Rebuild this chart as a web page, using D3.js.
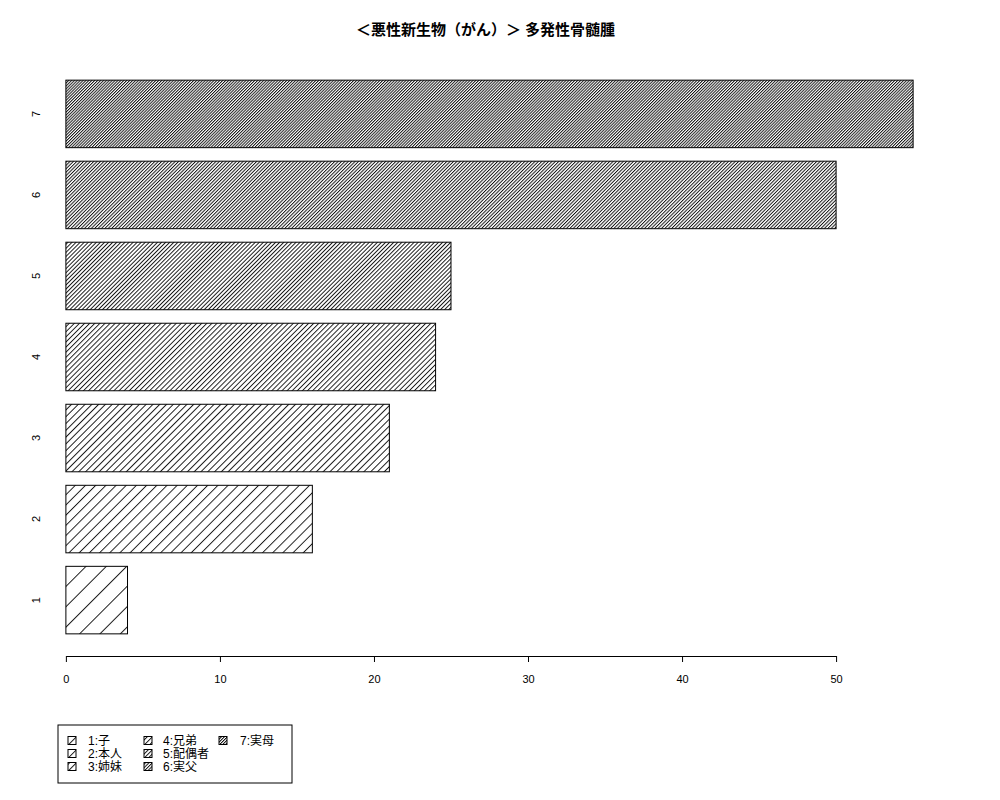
<!DOCTYPE html>
<html>
<head>
<meta charset="utf-8">
<script src="https://cdn.jsdelivr.net/npm/d3@7"></script>
<style>
  html, body { margin: 0; padding: 0; background: #fff; }
  svg { display: block; }
  text { font-family: "Liberation Sans", "Noto Sans CJK JP", sans-serif; }
</style>
</head>
<body>
<div id="chart"></div>
<script>
// ---- data ----
const title = "＜悪性新生物（がん）＞ 多発性骨髄腫";
const categories = ["1", "2", "3", "4", "5", "6", "7"];
const values = [4, 16, 21, 24, 25, 50, 55];
const densities = [5, 10, 15, 20, 25, 30, 35];   // hatch lines per inch
const legendLabels = ["1:子", "2:本人", "3:姉妹", "4:兄弟", "5:配偶者", "6:実父", "7:実母"];
const xTicks = [0, 10, 20, 30, 40, 50];

// ---- layout ----
const W = 1000, H = 800;
const plot = { left: 32, right: 947, top: 58, bottom: 656 };
const space = 0.2, barW = 1;
const n = categories.length;
const yMax = n * (barW + space);

const svg = d3.select("#chart").append("svg")
  .attr("width", W).attr("height", H);

const defs = svg.append("defs");
function makeHatch(id, d, ox, oy) {
  const s = 72 / d;
  const p = defs.append("pattern")
    .attr("id", id)
    .attr("patternUnits", "userSpaceOnUse")
    .attr("width", s).attr("height", 40)
    .attr("patternTransform", `translate(${ox},${oy}) rotate(45)`);
  p.append("line")
    .attr("x1", 0.5).attr("x2", 0.5)
    .attr("y1", 0).attr("y2", 40)
    .attr("stroke", "#000").attr("stroke-width", 0.9);
}
densities.forEach((d, i) => makeHatch("hatch" + i, d, 0, 0));

const xMaxData = d3.max(values);
const x = d3.scaleLinear()
  .domain([-0.04 * xMaxData, 1.04 * xMaxData])
  .range([plot.left, plot.right]);
const yPad = 0.04 * (yMax - space);
const y = d3.scaleLinear()
  .domain([space - yPad, yMax + yPad])
  .range([plot.bottom, plot.top]);

// bars
const bars = categories.map((c, i) => ({
  cat: c, v: values[i], i,
  y0: space + i * (barW + space), y1: (i + 1) * (barW + space)
}));

const g = svg.append("g");
g.selectAll("rect.bar").data(bars).enter().append("rect")
  .attr("class", "bar")
  .attr("x", d => x(0))
  .attr("y", d => y(d.y1))
  .attr("width", d => x(d.v) - x(0))
  .attr("height", d => y(d.y0) - y(d.y1))
  .attr("fill", d => "url(#hatch" + d.i + ")")
  .attr("stroke", "#000").attr("stroke-width", 1);

// y category labels (rotated)
g.selectAll("text.ylab").data(bars).enter().append("text")
  .attr("class", "ylab")
  .attr("transform", d => `translate(40,${y((d.y0 + d.y1) / 2)}) rotate(-90)`)
  .attr("text-anchor", "middle")
  .attr("font-size", 11)
  .text(d => d.cat);

// x axis
const xAxisScale = x.copy().domain([xTicks[0], xTicks[xTicks.length - 1]])
  .range([x(xTicks[0]), x(xTicks[xTicks.length - 1])]);
const axis = svg.append("g")
  .attr("transform", `translate(0,${plot.bottom})`)
  .call(d3.axisBottom(xAxisScale).tickValues(xTicks).tickSize(6).tickSizeOuter(0).tickPadding(13)
    .tickFormat(d3.format("d")));
axis.selectAll("text").attr("font-size", 11).attr("fill", "#000")
  .attr("font-family", "'Liberation Sans', sans-serif");
axis.selectAll("path, line").attr("stroke", "#000");

// title
svg.append("text")
  .attr("x", (plot.left + plot.right) / 2 - 4)
  .attr("y", 35)
  .attr("text-anchor", "middle")
  .attr("font-size", 15)
  .attr("font-weight", "bold")
  .attr("font-family", "'Noto Sans CJK JP', sans-serif")
  .text(title);

// legend
const lg = svg.append("g");
lg.append("rect")
  .attr("x", 58).attr("y", 725).attr("width", 234).attr("height", 58)
  .attr("fill", "none").attr("stroke", "#000").attr("stroke-width", 1);
const colX = [68, 144, 219];
const textX = [88, 163, 240];
const rowY = [740.5, 753.5, 766.5];
legendLabels.forEach((lab, i) => {
  const col = Math.floor(i / 3), row = i % 3;
  const bx = colX[col], by = rowY[row] - 4;
  makeHatch("lhatch" + i, densities[i], bx + 4, by + 4);
  lg.append("rect")
    .attr("x", bx).attr("y", by)
    .attr("width", 8).attr("height", 8)
    .attr("fill", "url(#lhatch" + i + ")")
    .attr("stroke", "#000").attr("stroke-width", 1);
  lg.append("text")
    .attr("x", textX[col]).attr("y", rowY[row] + 4.5)
    .attr("font-size", 12)
    .attr("font-family", "'Liberation Sans', 'Noto Sans CJK JP', sans-serif")
    .text(lab);
});
</script>
</body>
</html>
